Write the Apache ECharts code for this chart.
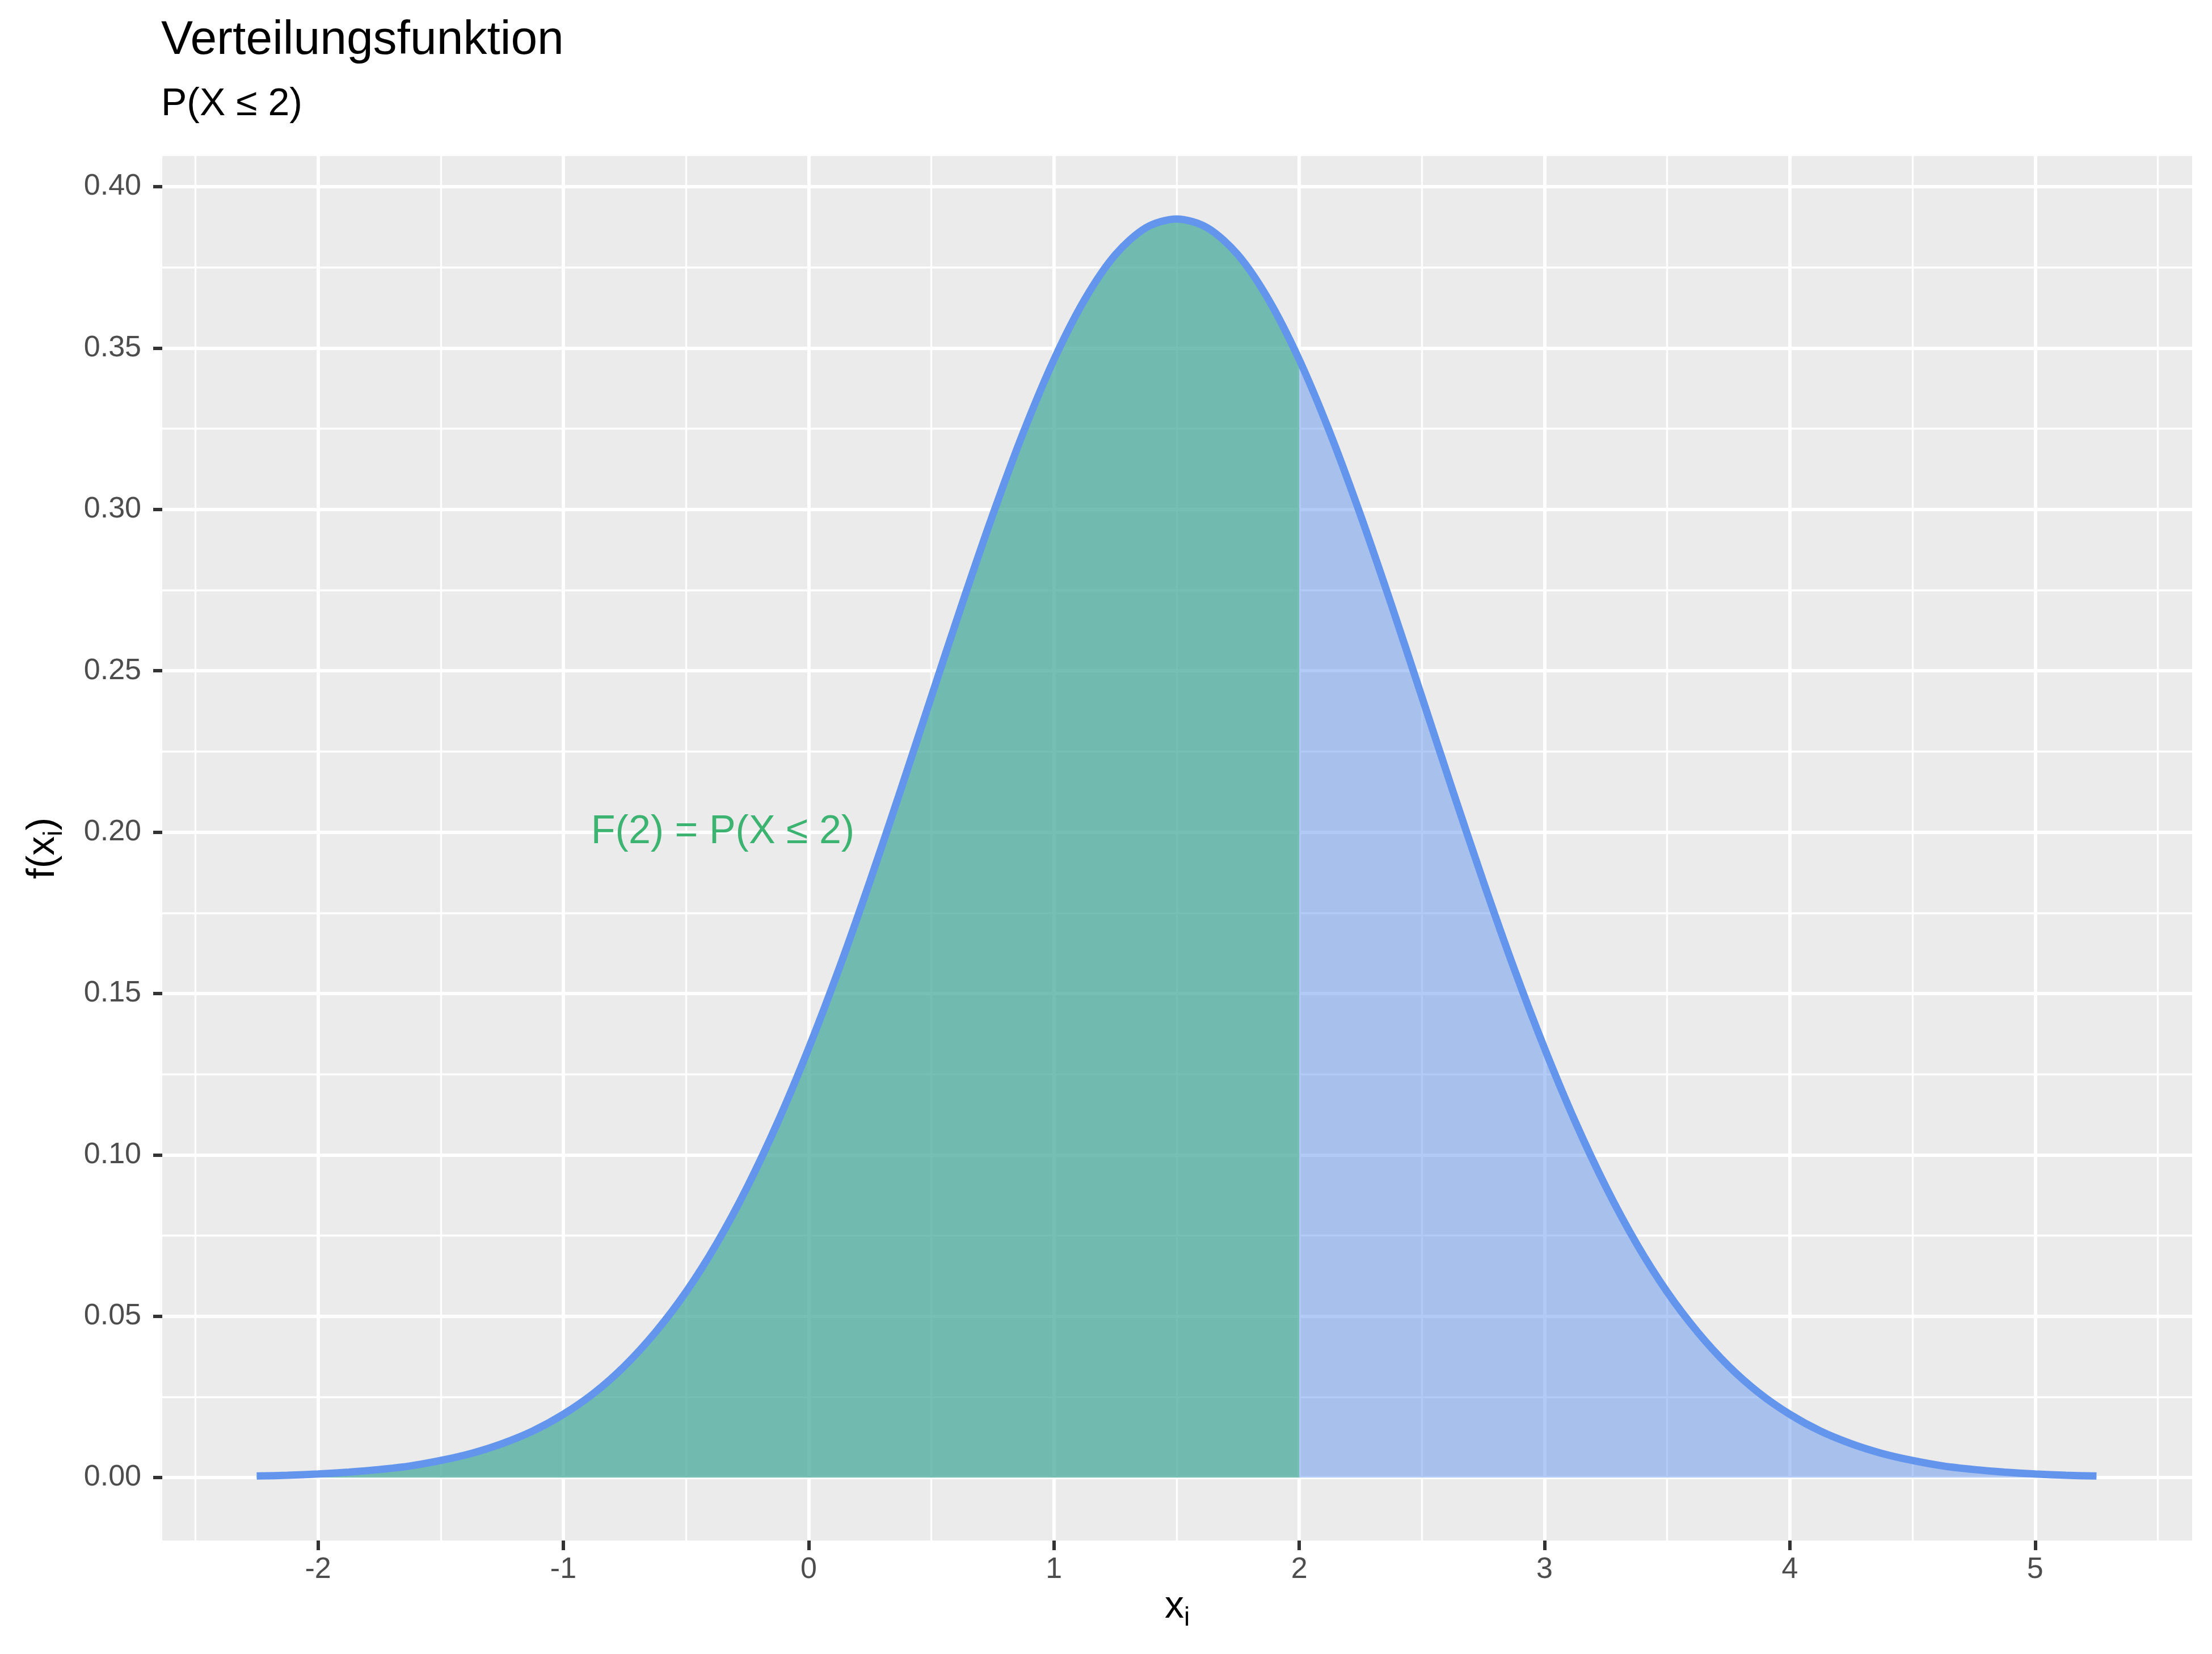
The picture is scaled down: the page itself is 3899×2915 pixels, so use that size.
<!DOCTYPE html>
<html>
<head>
<meta charset="utf-8">
<script src="https://cdn.jsdelivr.net/npm/echarts@6/dist/echarts.min.js"></script>
<style>
  html, body { margin: 0; padding: 0; background: #ffffff; }
  #chart { width: 3899px; height: 2915px; }
</style>
</head>
<body>
<div id="chart"></div>
<script>
// ---- data ----
const titleText = 'Verteilungsfunktion';
const subtitleText = 'P(X \u2264 2)';
const annotationText = 'F(2) = P(X \u2264 2)';
const annotationX = -0.35;
const annotationY = 0.20;
const cutoff = 2;

const xValues = [-2.25, -2.125, -2, -1.875, -1.75, -1.625, -1.5, -1.375, -1.25, -1.125,
  -1, -0.875, -0.75, -0.625, -0.5, -0.375, -0.25, -0.125, 0, 0.125,
  0.25, 0.375, 0.5, 0.625, 0.75, 0.875, 1, 1.125, 1.25, 1.375,
  1.5, 1.625, 1.75, 1.875, 2, 2.125, 2.25, 2.375, 2.5, 2.625,
  2.75, 2.875, 3, 3.125, 3.25, 3.375, 3.5, 3.625, 3.75, 3.875,
  4, 4.125, 4.25, 4.375, 4.5, 4.625, 4.75, 4.875, 5, 5.125, 5.25];

const densityValues = [0.0005, 0.0007, 0.0011, 0.0017, 0.0025, 0.0036, 0.0053, 0.0075, 0.0105, 0.0144,
  0.0196, 0.0262, 0.0346, 0.0450, 0.0575, 0.0725, 0.0901, 0.1103, 0.1330, 0.1579,
  0.1848, 0.2130, 0.2419, 0.2706, 0.2982, 0.3238, 0.3464, 0.3650, 0.3789, 0.3873,
  0.3900, 0.3873, 0.3789, 0.3650, 0.3464, 0.3238, 0.2982, 0.2706, 0.2419, 0.2130,
  0.1848, 0.1579, 0.1330, 0.1103, 0.0901, 0.0725, 0.0575, 0.0450, 0.0346, 0.0262,
  0.0196, 0.0144, 0.0105, 0.0075, 0.0053, 0.0036, 0.0025, 0.0017, 0.0011, 0.0007, 0.0005];

const xMajorTicks = [-2, -1, 0, 1, 2, 3, 4, 5];
const xMinorTicks = [-2.5, -1.5, -0.5, 0.5, 1.5, 2.5, 3.5, 4.5, 5.5];
const yMajorTicks = [0, 0.05, 0.10, 0.15, 0.20, 0.25, 0.30, 0.35, 0.40];
const yMinorTicks = [0.025, 0.075, 0.125, 0.175, 0.225, 0.275, 0.325, 0.375];

// ---- build series data ----
const curve = xValues.map((x, i) => [x, densityValues[i]]);
const greenPart = curve.filter(p => p[0] <= cutoff);

const FONT = '"Liberation Sans", Arial, "DejaVu Sans", sans-serif';
const XMIN = -2.635, XMAX = 5.64, YMIN = -0.0195, YMAX = 0.4095;

const chart = echarts.init(document.getElementById('chart'), null, { renderer: 'canvas' });

const subRich = {
  a: { fontSize: 68, fontFamily: FONT, color: '#000000' },
  s: { fontSize: 46, fontFamily: FONT, color: '#000000', padding: [40, 0, 0, 0] }
};

const option = {
  animation: false,
  backgroundColor: '#ffffff',
  textStyle: { fontFamily: FONT },
  grid: {
    left: 286, right: 35, top: 275, bottom: 200,
    show: true, backgroundColor: '#EBEBEB', borderWidth: 0
  },
  graphic: [
    { type: 'text', left: 284, top: 30, silent: true,
      style: { text: titleText, font: '84px ' + FONT, fill: '#000000' } },
    { type: 'text', left: 284, top: 150, silent: true,
      style: { text: subtitleText, font: '68px ' + FONT, fill: '#000000' } }
  ],
  xAxis: [
    {
      type: 'value', min: XMIN, max: XMAX, position: 'bottom',
      name: '{a|x}{s|i}', nameLocation: 'middle', nameGap: 74,
      nameTextStyle: { rich: subRich },
      axisLine: { show: false, onZero: false },
      axisTick: { show: true, length: 17, lineStyle: { color: '#333333', width: 6 }, customValues: xMajorTicks },
      axisLabel: { customValues: xMajorTicks, fontSize: 52, color: '#4D4D4D', margin: 26, fontFamily: FONT },
      splitLine: { show: true, lineStyle: { color: '#ffffff', width: 6 } }
    },
    {
      type: 'value', min: XMIN, max: XMAX, position: 'bottom',
      axisLine: { show: false, onZero: false },
      axisTick: { show: false, customValues: xMinorTicks },
      axisLabel: { show: false, customValues: xMinorTicks },
      splitLine: { show: true, lineStyle: { color: '#ffffff', width: 3.3 } }
    }
  ],
  yAxis: [
    {
      type: 'value', min: YMIN, max: YMAX, position: 'left',
      name: '{a|f(x}{s|i}{a|)}', nameLocation: 'middle', nameGap: 167, nameRotate: 90,
      nameTextStyle: { rich: subRich },
      axisLine: { show: false, onZero: false },
      axisTick: { show: true, length: 16, lineStyle: { color: '#333333', width: 6 }, customValues: yMajorTicks },
      axisLabel: { customValues: yMajorTicks, fontSize: 52, color: '#4D4D4D', margin: 37, fontFamily: FONT,
        formatter: v => v.toFixed(2) },
      splitLine: { show: true, lineStyle: { color: '#ffffff', width: 6 } }
    },
    {
      type: 'value', min: YMIN, max: YMAX, position: 'left',
      axisLine: { show: false, onZero: false },
      axisTick: { show: false, customValues: yMinorTicks },
      axisLabel: { show: false, customValues: yMinorTicks },
      splitLine: { show: true, lineStyle: { color: '#ffffff', width: 3.3 } }
    }
  ],
  series: [
    {
      name: 'density', type: 'line', xAxisIndex: 0, yAxisIndex: 0,
      data: curve, smooth: 0.3, symbol: 'none', silent: true,
      lineStyle: { color: '#6495ED', width: 13, cap: 'butt', opacity: 1 }
    },
    {
      name: 'total', type: 'line', xAxisIndex: 0, yAxisIndex: 0,
      data: curve, smooth: 0.3, symbol: 'none', silent: true,
      lineStyle: { width: 0, opacity: 0 },
      areaStyle: { color: 'rgba(100,149,237,0.5)', origin: 'auto', opacity: 1 }
    },
    {
      name: 'F(2)', type: 'line', xAxisIndex: 0, yAxisIndex: 0,
      data: greenPart, smooth: 0.3, symbol: 'none', silent: true,
      lineStyle: { width: 0, opacity: 0 },
      areaStyle: { color: 'rgba(60,179,113,0.5)', origin: 'auto', opacity: 1 }
    },
    {
      name: 'annotation', type: 'scatter', xAxisIndex: 0, yAxisIndex: 0,
      data: [[annotationX, annotationY]], symbolSize: 1, silent: true,
      itemStyle: { color: 'rgba(0,0,0,0)', opacity: 1 },
      label: { show: true, position: 'inside', formatter: annotationText,
        fontSize: 70, color: '#3CB371', opacity: 1, fontFamily: FONT }
    }
  ]
};

chart.setOption(option);
</script>
</body>
</html>
